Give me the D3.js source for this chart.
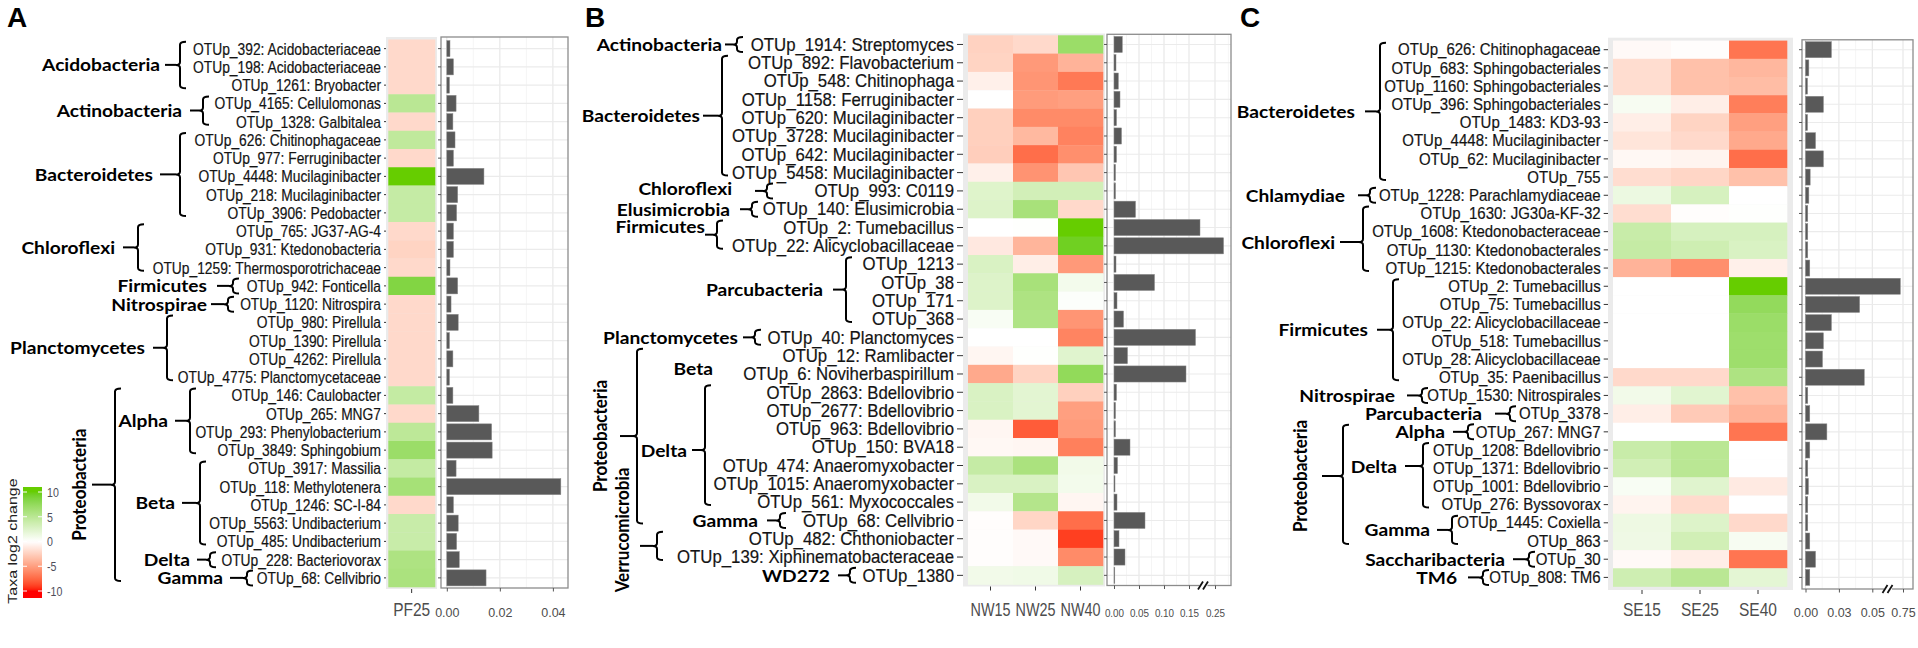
<!DOCTYPE html>
<html><head><meta charset="utf-8">
<script src="https://cdn.jsdelivr.net/npm/d3@7"></script>
<style>body{margin:0;background:#fff}svg{display:block}</style>
</head><body>
<svg id="c" width="1918" height="648"></svg>
<script>
// ---------------- DATA ----------------
const rowsA = ["OTUp_392: Acidobacteriaceae","OTUp_198: Acidobacteriaceae","OTUp_1261: Bryobacter","OTUp_4165: Cellulomonas","OTUp_1328: Galbitalea","OTUp_626: Chitinophagaceae","OTUp_977: Ferruginibacter","OTUp_4448: Mucilaginibacter","OTUp_218: Mucilaginibacter","OTUp_3906: Pedobacter","OTUp_765: JG37-AG-4","OTUp_931: Ktedonobacteria","OTUp_1259: Thermosporotrichaceae","OTUp_942: Fonticella","OTUp_1120: Nitrospira","OTUp_980: Pirellula","OTUp_1390: Pirellula","OTUp_4262: Pirellula","OTUp_4775: Planctomycetaceae","OTUp_146: Caulobacter","OTUp_265: MNG7","OTUp_293: Phenylobacterium","OTUp_3849: Sphingobium","OTUp_3917: Massilia","OTUp_118: Methylotenera","OTUp_1246: SC-I-84","OTUp_5563: Undibacterium","OTUp_485: Undibacterium","OTUp_228: Bacteriovorax","OTUp_68: Cellvibrio"];
const colsA = ["PF25"];
const foldA_PF25 = [-2,-2,-2,5,-2,4.6,-2,10,4.2,4.2,-2,-2.3,-2,8.5,-2,-2,-2,-2,-2,4.3,-2,4.8,7,4.3,6.3,-2,4,4,5.8,6];
const barA = [0.0012,0.0025,0.001,0.0035,0.0023,0.0031,0.0025,0.014,0.0041,0.0037,0.0025,0.0025,0.0012,0.0041,0.0016,0.0043,0.001,0.0023,0.001,0.0023,0.0121,0.0169,0.0171,0.0035,0.043,0.0025,0.0043,0.0037,0.0047,0.0148];
const barTicksA = [0, 0.02, 0.04];
const barTickLabelsA = ["0.00","0.02","0.04"];

const rowsB = ["OTUp_1914: Streptomyces","OTUp_892: Flavobacterium","OTUp_548: Chitinophaga","OTUp_1158: Ferruginibacter","OTUp_620: Mucilaginibacter","OTUp_3728: Mucilaginibacter","OTUp_642: Mucilaginibacter","OTUp_5458: Mucilaginibacter","OTUp_993: C0119","OTUp_140: Elusimicrobia","OTUp_2: Tumebacillus","OTUp_22: Alicyclobacillaceae","OTUp_1213","OTUp_38","OTUp_171","OTUp_368","OTUp_40: Planctomyces","OTUp_12: Ramlibacter","OTUp_6: Noviherbaspirillum","OTUp_2863: Bdellovibrio","OTUp_2677: Bdellovibrio","OTUp_963: Bdellovibrio","OTUp_150: BVA18","OTUp_474: Anaeromyxobacter","OTUp_1015: Anaeromyxobacter","OTUp_561: Myxococcales","OTUp_68: Cellvibrio","OTUp_482: Chthoniobacter","OTUp_139: Xiphinematobacteraceae","OTUp_1380"];
const colsB = ["NW15","NW25","NW40"];
const foldB_NW15 = [-2.4,-2.3,-0.8,0,-2.5,-2.5,-2.6,-0.8,2.4,2.5,0,-1.2,2.8,2.5,2.5,0.5,0,-0.5,-4.5,2.8,2.8,-0.5,-0.4,4.2,2.8,1,-0.1,-0.1,-0.1,1];
const foldB_NW25 = [-2,-5.3,-5.5,-5.2,-6,-3.7,-7.3,-5.6,3.3,6.2,0.1,-3.9,-0.9,6.2,5.8,5.7,0,0.1,-2.3,2.1,2.1,-8,-0.5,6,2.8,5.4,-2.2,-0.3,-0.3,1.1];
const foldB_NW40 = [7,-4,-6.8,-5,-6,-6.4,-5.8,-3,3.3,-2,10,9.5,-5.3,0.9,0.2,-5.5,-6.3,2.3,7.6,-2.5,-5,-5.2,-6.5,1,0.9,-0.5,-7.3,-9,-6,3];
const barB = [0.0166,0.004,0.0087,0.012,0.005,0.015,0.005,0.003,0.003,0.043,0.172,0.266,0.004,0.081,0.006,0.019,0.163,0.027,0.144,0.005,0.003,0.003,0.032,0.007,0.002,0.006,0.062,0.01,0.022,0.001];
const barTicksB = [0, 0.05, 0.10, 0.15, 0.25];
const barTickLabelsB = ["0.00","0.05","0.10","0.15","0.25"];

const rowsC = ["OTUp_626: Chitinophagaceae","OTUp_683: Sphingobacteriales","OTUp_1160: Sphingobacteriales","OTUp_396: Sphingobacteriales","OTUp_1483: KD3-93","OTUp_4448: Mucilaginibacter","OTUp_62: Mucilaginibacter","OTUp_755","OTUp_1228: Parachlamydiaceae","OTUp_1630: JG30a-KF-32","OTUp_1608: Ktedonobacteraceae","OTUp_1130: Ktedonobacterales","OTUp_1215: Ktedonobacterales","OTUp_2: Tumebacillus","OTUp_75: Tumebacillus","OTUp_22: Alicyclobacillaceae","OTUp_518: Tumebacillus","OTUp_28: Alicyclobacillaceae","OTUp_35: Paenibacillus","OTUp_1530: Nitrospirales","OTUp_3378","OTUp_267: MNG7","OTUp_1208: Bdellovibrio","OTUp_1371: Bdellovibrio","OTUp_1001: Bdellovibrio","OTUp_276: Byssovorax","OTUp_1445: Coxiella","OTUp_863","OTUp_30","OTUp_808: TM6"];
const colsC = ["SE15","SE25","SE40"];
const foldC_SE15 = [-0.3,-1.8,-1.8,0.6,-0.9,-1.4,-0.4,-1.8,1.4,-1.8,4,4.2,-4,0,0,0,0,0,-2,1,-0.9,0,4,3.4,0.5,-0.6,1.3,1.2,-0.3,3.6];
const foldC_SE25 = [-0.1,-3.3,-3.3,-0.9,-2.3,-2,-0.6,-2.2,3,-0.1,3,3.6,-5.8,0,0,0,0,0,-2,2.2,-2.8,0,5,5,2.3,-1.9,2.5,3.4,-0.9,5];
const foldC_SE40 = [-7,-3.8,-3.5,-6.6,-5,-4.5,-7.3,-3.3,0,0.1,3,2.8,-0.8,10,7.5,7,6.8,6.8,5.8,-3.3,-4,-7,0,0,-1.1,0,-2,0.6,-7,2];
const barC = [0.0194,0.0025,0.0015,0.0134,0.0015,0.0075,0.0134,0.0035,0.0025,0.0017,0.0017,0.0017,0.0032,0.748,0.0405,0.0194,0.0134,0.0127,0.044,0.0017,0.0032,0.016,0.0032,0.0017,0.0022,0.0017,0.0017,0.0032,0.0075,0.0032];
const barTicksC = [0, 0.025, 0.05, 0.75];
const barTickLabelsC = ["0.00","0.03","0.05","0.75"];

const legendTicks = [10, 5, 0, -5, -10];
const legendTitle = "Taxa log2 change";

// phylum annotation (rows are 1-based; layout px kept separate from data)
const annA = [
 {t:"Acidobacteria", r:[1,3], bx:180, sx:165, lx:160},
 {t:"Actinobacteria", r:[4,5], bx:203, sx:190, lx:182},
 {t:"Bacteroidetes", r:[6,10], bx:180, sx:160, lx:153},
 {t:"Chloroflexi", r:[11,13], bx:138, sx:123, lx:115},
 {t:"Firmicutes", r:[14,14], bx:233, sx:217, lx:207},
 {t:"Nitrospirae", r:[15,15], bx:228, sx:211, lx:207},
 {t:"Planctomycetes", r:[16,19], bx:167, sx:153, lx:145},
 {t:"Proteobacteria", r:[20,30], bx:115, sx:92, lx:79, rot:true},
 {t:"Alpha", r:[20,23], bx:190, sx:175, lx:168},
 {t:"Beta", r:[24,28], bx:200, sx:182, lx:175},
 {t:"Delta", r:[29,29], bx:210, sx:197, lx:190},
 {t:"Gamma", r:[30,30], bx:247, sx:230, lx:223}
];
const annB = [
 {t:"Actinobacteria", r:[1,1], bx:737, sx:725, lx:722},
 {t:"Bacteroidetes", r:[2,8], bx:722, sx:703, lx:700},
 {t:"Chloroflexi", r:[9,9], bx:767, sx:755, lx:732, ldy:-2},
 {t:"Elusimicrobia", r:[10,10], bx:752, sx:740, lx:730},
 {t:"Firmicutes", r:[11,12], bx:717, sx:705, lx:705, ldy:-8},
 {t:"Parcubacteria", r:[13,16], bx:846, sx:833, lx:823},
 {t:"Planctomycetes", r:[17,17], bx:755, sx:743, lx:738},
 {t:"Proteobacteria", r:[18,27], bx:637, sx:620, lx:600, ly:436, rot:true},
 {t:"Beta", r:[18,19], lx:713, ly:368, nob:true},
 {t:"Delta", r:[20,26], bx:705, sx:692, lx:687, ym:450},
 {t:"Gamma", r:[27,27], bx:780, sx:767, lx:758},
 {t:"Verrucomicrobia", r:[28,29], bx:657, sx:640, lx:622, ly:530, rot:true},
 {t:"WD272", r:[30,30], bx:850, sx:838, lx:830}
];
const annC = [
 {t:"Bacteroidetes", r:[1,8], bx:1380, sx:1365, lx:1355},
 {t:"Chlamydiae", r:[9,9], bx:1370, sx:1358, lx:1345},
 {t:"Chloroflexi", r:[10,13], bx:1363, sx:1340, lx:1335, ym:242},
 {t:"Firmicutes", r:[14,19], bx:1393, sx:1377, lx:1368},
 {t:"Nitrospirae", r:[20,20], bx:1422, sx:1407, lx:1395},
 {t:"Parcubacteria", r:[21,21], bx:1510, sx:1495, lx:1482},
 {t:"Proteobacteria", r:[22,28], bx:1343, sx:1322, lx:1300, ly:476, ym:476, rot:true},
 {t:"Alpha", r:[22,22], bx:1468, sx:1453, lx:1445},
 {t:"Delta", r:[23,26], bx:1423, sx:1405, lx:1397, ym:466},
 {t:"Gamma", r:[27,28], bx:1452, sx:1437, lx:1430},
 {t:"Saccharibacteria", r:[29,29], bx:1529, sx:1513, lx:1505},
 {t:"TM6", r:[30,30], bx:1483, sx:1468, lx:1457}
];

// ---------------- LAYOUT ----------------
const panels = [
 {letter:"A", lx:7, rows:rowsA, cols:colsA, fold:[foldA_PF25], bars:barA, ticks:barTicksA, tickLabels:barTickLabelsA, ann:annA,
  heat:{x0:388.3,x1:435,y0:39.5,y1:587}, grey:{x0:386,x1:437,y0:37,y1:589},
  labelRight:381, labelFont:16, ref:["OTUp_392: Acidobacteriaceae",188], axRef:["PF25",37],
  bar:{x0:441,x1:568,y0:37,y1:588}, bd:[0,0.0457], br:[446.8,568], minor:[0.01,0.03], brk:null, tickFont:12.5, tickSX:1},
 {letter:"B", lx:585, rows:rowsB, cols:colsB, fold:[foldB_NW15,foldB_NW25,foldB_NW40], bars:barB, ticks:barTicksB, tickLabels:barTickLabelsB, ann:annB,
  heat:{x0:968,x1:1103,y0:35.3,y1:584.5}, grey:{x0:963,x1:1105,y0:33.5,y1:586.5},
  labelRight:954, labelFont:18.5, ref:["OTUp_3728: Mucilaginibacter",222], axRef:["NW15",40],
  bar:{x0:1107,x1:1231,y0:34.3,y1:585.5}, bd:[0,0.172,0.235,0.28], br:[1114,1200,1207,1231], minor:[0.025,0.075,0.125,0.275], brk:1203.5, tickFont:11.5, tickSX:0.86},
 {letter:"C", lx:1240, rows:rowsC, cols:colsC, fold:[foldC_SE15,foldC_SE25,foldC_SE40], bars:barC, ticks:barTicksC, tickLabels:barTickLabelsC, ann:annC,
  heat:{x0:1613,x1:1787,y0:40.6,y1:586.5}, grey:{x0:1608,x1:1793,y0:37.7,y1:590},
  labelRight:1600.7, labelFont:16, ref:["OTUp_1228: Parachlamydiaceae",222], axRef:["SE15",38],
  bar:{x0:1802,x1:1913,y0:39.8,y1:589}, bd:[0,0.058,0.7425,0.7575], br:[1805.5,1883,1893,1913], minor:[0.0125,0.0375], brk:1888, tickFont:12.5, tickSX:1}
];

const svg = d3.select("#c");
const SANS = "'Liberation Sans', Arial, sans-serif";
const BOLD = "Lato, 'Open Sans', sans-serif";

const posI = d3.interpolateLab("#ffffff", "#66cd00");
const negI = d3.interpolateLab("#ffffff", "#ff0000");
function fillOf(v){ const t = Math.max(-1, Math.min(1, v/10)); return t >= 0 ? posI(t) : negI(-t); }

function measure(text, size, family, weight){
  const t = svg.append("text").attr("font-size", size).attr("font-family", family).attr("font-weight", weight||"normal").text(text);
  const w = t.node().getComputedTextLength(); t.remove(); return w;
}
const phylSize = 17;
const phylSX = 118 / measure("Acidobacteria", phylSize, BOLD, "bold");

function bracePath(x, y0, y1, ym, hook){
  const r = Math.min(3, (y1-y0)/4);
  return `M${x+hook},${y0} Q${x},${y0} ${x},${y0+r} L${x},${ym-r} Q${x},${ym} ${x-4},${ym} Q${x},${ym} ${x},${ym+r} L${x},${y1-r} Q${x},${y1} ${x+hook},${y1}`;
}

panels.forEach(p => {
  const g = svg.append("g");
  const y = d3.scaleBand().domain(p.rows).range([p.heat.y0, p.heat.y1]);
  const x = d3.scaleBand().domain(p.cols).range([p.heat.x0, p.heat.x1]);
  const rc = i => y(p.rows[i-1]) + y.bandwidth()/2;

  g.append("text").attr("x", p.lx).attr("y", 27).attr("font-family", SANS).attr("font-weight","bold")
   .attr("font-size", 28).attr("fill","#000").text(p.letter);

  // heatmap
  g.append("rect").attr("x", p.grey.x0).attr("y", p.grey.y0).attr("width", p.grey.x1-p.grey.x0)
   .attr("height", p.grey.y1-p.grey.y0).attr("fill", "#ebebeb");
  const cells = [];
  p.cols.forEach((c, ci) => p.rows.forEach((r, ri) => cells.push({c, r, v: p.fold[ci][ri]})));
  g.selectAll("rect.cell").data(cells).join("rect").attr("class","cell")
   .attr("x", d => x(d.c)).attr("y", d => y(d.r)).attr("width", x.bandwidth()+0.3).attr("height", y.bandwidth()+0.3)
   .attr("fill", d => fillOf(d.v));

  // OTU labels
  const sx = p.ref[1] / measure(p.ref[0], p.labelFont, SANS);
  const tickLen = p.grey.x0 - p.labelRight - 3;
  const ya = g.append("g").attr("transform", `translate(${p.grey.x0},0)`)
    .call(d3.axisLeft(y).tickSize(tickLen).tickPadding(3));
  ya.select(".domain").remove();
  ya.selectAll(".tick line").attr("stroke", "#333").attr("stroke-width", 1);
  ya.selectAll(".tick text").attr("x", null).attr("dy", null)
    .attr("transform", `translate(${-(p.grey.x0 - p.labelRight)},0) scale(${sx},1)`)
    .attr("dominant-baseline", "central").attr("font-family", SANS).attr("font-size", p.labelFont)
    .attr("fill", "#141414").attr("stroke", "#141414").attr("stroke-width", 0.2);

  // sample labels
  const axSX = p.axRef[1] / measure(p.axRef[0], 18, SANS);
  const xa = g.append("g").attr("transform", `translate(0,${p.grey.y1})`)
    .call(d3.axisBottom(x).tickSize(4).tickPadding(4));
  xa.select(".domain").remove();
  xa.selectAll(".tick line").attr("stroke", "#333");
  xa.selectAll(".tick text").attr("y", null).attr("dy", null)
    .attr("transform", `translate(0,${616 - p.grey.y1}) scale(${axSX},1)`)
    .attr("font-family", SANS).attr("font-size", 18).attr("fill", "#4d4d4d");

  // bar panel
  const b = p.bar;
  const xs = d3.scaleLinear().domain(p.bd).range(p.br);
  const yb = d3.scaleBand().domain(p.rows).range([p.heat.y0, p.heat.y1]).paddingInner(0.12).paddingOuter(0.06);
  const bg = g.append("g");
  bg.append("rect").attr("x", b.x0).attr("y", b.y0).attr("width", b.x1-b.x0).attr("height", b.y1-b.y0).attr("fill", "#fff");
  bg.selectAll("line.minor").data(p.minor).join("line").attr("class","minor")
    .attr("x1", d => xs(d)).attr("x2", d => xs(d)).attr("y1", b.y0).attr("y2", b.y1)
    .attr("stroke", "#f2f2f2").attr("stroke-width", 0.8);
  bg.selectAll("line.vmaj").data(p.ticks).join("line").attr("class","vmaj")
    .attr("x1", d => xs(d)).attr("x2", d => xs(d)).attr("y1", b.y0).attr("y2", b.y1)
    .attr("stroke", "#e6e6e6").attr("stroke-width", 1.1);
  bg.selectAll("line.hmaj").data(p.rows).join("line").attr("class","hmaj")
    .attr("x1", b.x0).attr("x2", b.x1).attr("y1", d => y(d)+y.bandwidth()/2).attr("y2", d => y(d)+y.bandwidth()/2)
    .attr("stroke", "#ebebeb").attr("stroke-width", 1.1);
  bg.selectAll("rect.bar").data(p.rows.map((r,i)=>({r, v:p.bars[i]}))).join("rect").attr("class","bar")
    .attr("x", xs(0)).attr("y", d => yb(d.r)).attr("height", yb.bandwidth())
    .attr("width", d => Math.max(0.8, xs(d.v) - xs(0)))
    .attr("fill", "#595959").attr("stroke", "#8a8a8a").attr("stroke-width", 0.5);
  bg.append("rect").attr("x", b.x0).attr("y", b.y0).attr("width", b.x1-b.x0).attr("height", b.y1-b.y0)
    .attr("fill", "none").attr("stroke", "#8c8c8c").attr("stroke-width", 1.3);
  const yl = bg.append("g").attr("transform", `translate(${b.x0},0)`).call(d3.axisLeft(y).tickSize(3).tickFormat(""));
  yl.select(".domain").remove();
  yl.selectAll(".tick line").attr("stroke", "#555");
  const xb = bg.append("g").attr("transform", `translate(0,${b.y1})`)
    .call(d3.axisBottom(xs).tickValues(p.ticks).tickFormat((d,i) => p.tickLabels[i]).tickSize(3.5).tickPadding(3));
  xb.select(".domain").remove();
  xb.selectAll(".tick line").attr("stroke", "#555");
  xb.selectAll(".tick text").attr("y", null).attr("dy", null)
    .attr("transform", `translate(0,${616.5 - b.y1}) scale(${p.tickSX},1)`)
    .attr("font-family", SANS).attr("font-size", p.tickFont).attr("fill", "#4d4d4d");
  if (p.brk) {
    bg.append("rect").attr("x", p.brk-4).attr("y", b.y1-3).attr("width", 8).attr("height", 6).attr("fill", "#fff");
    [-3, 2].forEach(o => bg.append("line").attr("x1", p.brk+o-2.5).attr("y1", b.y1+4).attr("x2", p.brk+o+2.5).attr("y2", b.y1-4)
      .attr("stroke", "#111").attr("stroke-width", 1.8));
  }

  // phylum annotations
  const ag = g.append("g");
  p.ann.forEach(a => {
    let y0, y1;
    if (a.r[0] === a.r[1]) { y0 = rc(a.r[0]) - 7.5; y1 = rc(a.r[0]) + 7.5; }
    else { y0 = rc(a.r[0]) - 7; y1 = rc(a.r[1]) + 3; }
    const ym = a.ym != null ? a.ym : (y0 + y1) / 2;
    if (!a.nob) {
      ag.append("path").attr("d", bracePath(a.bx, y0, y1, ym, 6)).attr("fill", "none")
        .attr("stroke", "#000").attr("stroke-width", 2);
      ag.append("line").attr("x1", a.sx).attr("x2", a.bx - 4).attr("y1", ym).attr("y2", ym)
        .attr("stroke", "#000").attr("stroke-width", 2);
    }
    const ly = a.ly != null ? a.ly : ym + (a.ldy || 0);
    const t = ag.append("text").attr("font-family", BOLD).attr("font-weight", "bold").attr("font-size", phylSize)
      .attr("fill", "#000").attr("dominant-baseline", "central").text(a.t);
    if (a.rot) t.attr("text-anchor", "middle").attr("transform", `translate(${a.lx},${ly}) rotate(-90) scale(1,${phylSX})`);
    else t.attr("text-anchor", "end").attr("transform", `translate(${a.lx},${ly}) scale(${phylSX},1)`);
  });
});

// ---------------- LEGEND ----------------
const lg = svg.append("g");
const ly = d3.scaleLinear().domain([10, -10]).range([492, 591]);
const gradTop = ly.invert(487), gradBot = ly.invert(598);
const defs = svg.append("defs");
const grad = defs.append("linearGradient").attr("id", "lgd").attr("x1", 0).attr("x2", 0).attr("y1", 0).attr("y2", 1);
d3.range(0, 1.0001, 0.02).forEach(f => {
  const v = gradTop + (gradBot - gradTop) * f;
  grad.append("stop").attr("offset", f).attr("stop-color", fillOf(v));
});
lg.append("rect").attr("x", 23).attr("y", 487).attr("width", 19).attr("height", 111).attr("fill", "url(#lgd)");
legendTicks.forEach(v => {
  lg.append("line").attr("x1", 23).attr("x2", 27).attr("y1", ly(v)).attr("y2", ly(v)).attr("stroke", "#fff").attr("stroke-width", 1);
  lg.append("line").attr("x1", 38).attr("x2", 42).attr("y1", ly(v)).attr("y2", ly(v)).attr("stroke", "#fff").attr("stroke-width", 1);
  lg.append("text").attr("x", 0).attr("y", 0).attr("dominant-baseline", "central")
    .attr("font-family", SANS).attr("font-size", 12.5).attr("fill", "#4d4d5a")
    .attr("transform", `translate(47,${ly(v)}) scale(0.85,1)`).text(v);
});
lg.append("text").attr("text-anchor", "middle").attr("dominant-baseline", "central")
  .attr("transform", "translate(12,541) rotate(-90) scale(1,0.85)")
  .attr("font-family", SANS).attr("font-size", 16).attr("fill", "#222").text(legendTitle);
</script>
</body></html>
